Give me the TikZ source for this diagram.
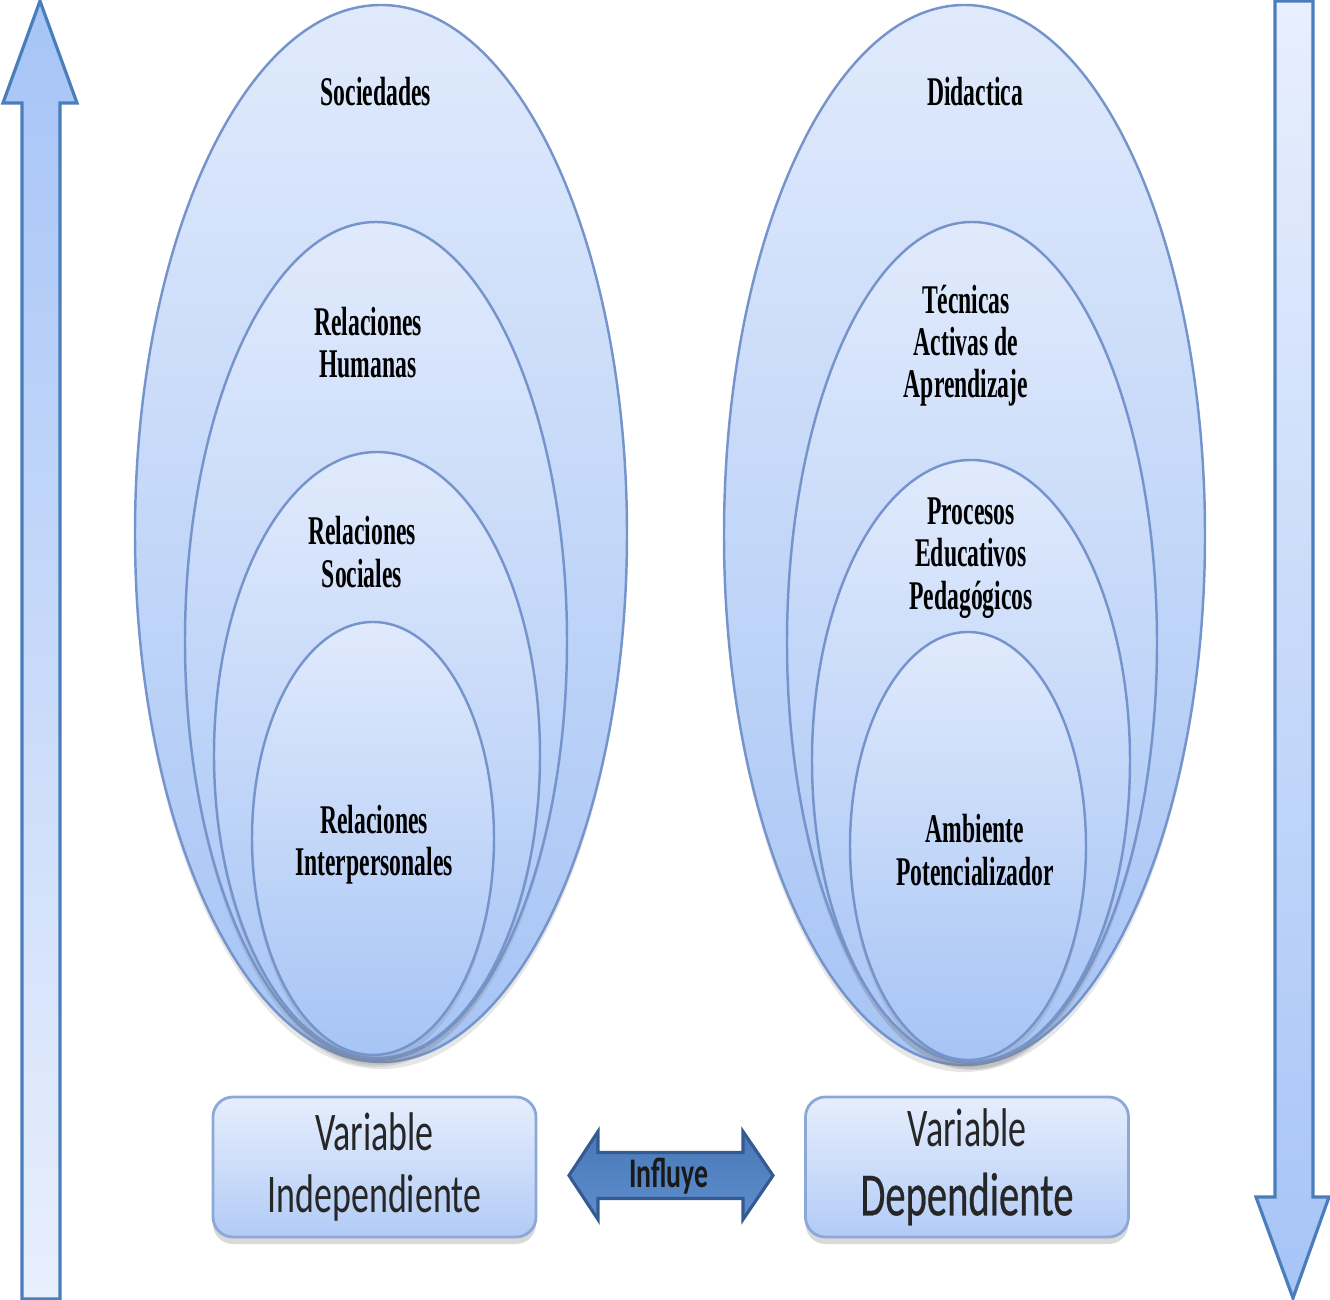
\documentclass[tikz,border=0pt]{standalone}
\usepackage{fontspec}
\usepackage{xcolor}
\usetikzlibrary{positioning,shapes.geometric,shadows}
\newfontfamily\ringfont[FakeStretch=0.58]{Liberation Serif}
\newfontfamily\boxfont[FakeStretch=0.66]{Carlito}
\newfontfamily\heavyboxfont[FakeStretch=0.66,FakeBold=0.4]{Carlito}
\definecolor{ringtop}{RGB}{224,234,252}
\definecolor{ringbot}{RGB}{166,196,245}
\definecolor{ringline}{RGB}{118,148,204}
\definecolor{boxtop}{RGB}{230,238,253}
\definecolor{boxbot}{RGB}{178,203,246}
\definecolor{boxline}{RGB}{140,168,214}
\definecolor{arrowlight}{RGB}{232,239,253}
\definecolor{arrowdark}{RGB}{166,196,247}
\definecolor{arrowline}{RGB}{74,126,187}
\definecolor{influtop}{RGB}{72,120,184}
\definecolor{influbot}{RGB}{96,142,204}
\definecolor{influline}{RGB}{52,90,146}

\begin{document}
\begin{tikzpicture}[semithick]
    \tikzstyle{ring}=[ellipse,draw=ringline,line width=0.7pt,inner sep=0pt,top color=ringtop,bottom color=ringbot,drop shadow={opacity=0.2,shadow xshift=0pt,shadow yshift=-2pt}]
    \tikzstyle{ringtext}=[align=center,text=black,font=\ringfont\bfseries\fontsize{11.6}{12}\selectfont]
    \tikzstyle{varbox}=[rectangle,rounded corners=0.2cm,draw=boxline,line width=0.8pt,top color=boxtop,bottom color=boxbot,minimum width=3.23cm,minimum height=1.4cm,align=center,font=\boxfont\fontsize{15.5}{17.6}\selectfont,text=black!85,drop shadow={opacity=0.3,shadow xshift=0pt,shadow yshift=-2pt}]
    \tikzstyle{bigarrow}=[draw=arrowline,line width=0.9pt,line join=miter]
    \useasboundingbox (0,0) rectangle (13.3,-13);

    % arrows at the sides
    \path[bigarrow,top color=arrowdark,bottom color=arrowlight]
        (0.22,-12.99) -- (0.22,-1.03) -- (0.03,-1.03) -- (0.40,-0.01) -- (0.77,-1.03)
        -- (0.60,-1.03) -- (0.60,-12.99) -- cycle;
    \path[bigarrow,top color=arrowlight,bottom color=arrowdark]
        (12.75,-0.01) -- (12.75,-11.97) -- (12.56,-11.97) -- (12.93,-12.98) -- (13.29,-11.97)
        -- (13.13,-11.97) -- (13.13,-0.01) -- cycle;

    % independent variable
    \node[ring,minimum width=4.92cm,minimum height=10.57cm] (soc)   at (3.81,-5.335) {};
    \node[ring,minimum width=3.82cm,minimum height=8.38cm]  (hum)   at (3.76,-6.41)  {};
    \node[ring,minimum width=3.26cm,minimum height=6.06cm]  (rsoc)  at (3.77,-7.55)  {};
    \node[ring,minimum width=2.42cm,minimum height=4.33cm]  (inter) at (3.73,-8.385) {};
    \node[ringtext] (socT)   at (3.76,-0.92) {Sociedades};
    \node[ringtext] (humT)   at (3.68,-3.43) {Relaciones\\Humanas};
    \node[ringtext] (rsocT)  at (3.62,-5.52) {Relaciones\\Sociales};
    \node[ringtext] (interT) at (3.74,-8.45) {Relaciones\\Interpersonales};

    % dependent variable
    \node[ring,minimum width=4.81cm,minimum height=10.6cm]  (did) at (9.645,-5.35) {};
    \node[ring,minimum width=3.70cm,minimum height=8.41cm]  (tec) at (9.72,-6.425) {};
    \node[ring,minimum width=3.18cm,minimum height=6.02cm]  (pro) at (9.71,-7.61)  {};
    \node[ring,minimum width=2.36cm,minimum height=4.28cm]  (amb) at (9.68,-8.46)  {};
    \node[ringtext] (didT) at (9.75,-0.92) {Didactica};
    \node[ringtext] (tecT) at (9.66,-3.46) {Técnicas\\Activas de\\Aprendizaje};
    \node[ringtext] (proT) at (9.71,-5.58) {Procesos\\Educativos\\Pedagógicos};
    \node[ringtext] (ambT) at (9.75,-8.50) {Ambiente\\Potencializador};

    \node[varbox] (indep) at (3.745,-11.67) {Variable\\Independiente};
    \node[varbox] (dep)   at (9.67,-11.67)  {Variable\\[2pt]{\heavyboxfont\fontsize{17.5}{19}\selectfont Dependiente}};

    % influye
    \path[draw=influline,line width=0.9pt,top color=influtop,bottom color=influbot,line join=miter]
        (5.69,-11.755) -- (5.98,-11.315) -- (5.98,-11.525) -- (7.43,-11.525) -- (7.43,-11.315)
        -- (7.73,-11.755) -- (7.43,-12.195) -- (7.43,-11.985) -- (5.98,-11.985) -- (5.98,-12.195) -- cycle;
    \node[font=\boxfont\bfseries\fontsize{12}{13}\selectfont,text=black!90] (influye) at (6.69,-11.76) {Influye};
\end{tikzpicture}
\end{document}
